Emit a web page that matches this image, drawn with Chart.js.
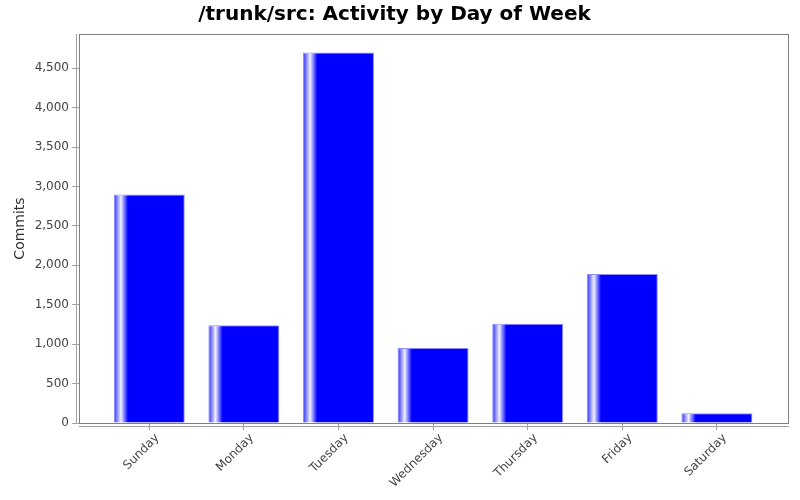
<!DOCTYPE html>
<html>
<head>
<meta charset="utf-8">
<script src="https://cdn.jsdelivr.net/npm/chart.js@4"></script>
<style>
  html, body { margin: 0; padding: 0; background: #fff; }
  #wrap { width: 800px; height: 500px; }
</style>
</head>
<body>
<div id="wrap"><canvas id="chart"></canvas></div>
<script>
// ---------------- DATA ----------------
const days = ["Sunday", "Monday", "Tuesday", "Wednesday", "Thursday", "Friday", "Saturday"];
const commits = [2900, 1240, 4700, 950, 1260, 1890, 125];
const yTicks = [0, 500, 1000, 1500, 2000, 2500, 3000, 3500, 4000, 4500];

const FONT = "'DejaVu Sans', sans-serif";
const BAR_PCT = 0.75;

// white highlight stripe near the left edge of each bar
function barGradient(ctx) {
    const chart = ctx.chart;
    const xs = chart.scales.x;
    if (ctx.type !== "data" || !xs) return "#0000ff";
    const w = (xs.getPixelForValue(1) - xs.getPixelForValue(0)) * BAR_PCT;
    const left = xs.getPixelForValue(ctx.raw.x) - w / 2;
    if (!Number.isFinite(w) || !Number.isFinite(left) || w <= 0) return "#0000ff";
    const g = chart.ctx.createLinearGradient(left, 0, left + w, 0);
    g.addColorStop(0, "rgb(40,40,255)");
    g.addColorStop(0.1, "rgb(240,240,255)");
    g.addColorStop(0.2, "rgb(0,0,255)");
    g.addColorStop(1, "rgb(0,0,255)");
    return g;
}

// plot frame + offset axis lines, like the original
const framePlugin = {
    id: "frame",
    afterDraw(chart) {
        const { ctx, chartArea: a } = chart;
        ctx.save();
        ctx.strokeStyle = "#808080";
        ctx.lineWidth = 1;
        ctx.strokeRect(a.left + 0.5, a.top + 0.5, a.right - a.left - 1, a.bottom - a.top);
        ctx.strokeStyle = "#a0a0a0";
        ctx.beginPath();
        ctx.moveTo(a.left - 2.5, a.top);
        ctx.lineTo(a.left - 2.5, a.bottom);
        ctx.moveTo(a.left, a.bottom + 3.5);
        ctx.lineTo(a.right, a.bottom + 3.5);
        ctx.stroke();
        ctx.restore();
    }
};

new Chart(document.getElementById("chart"), {
    type: "bar",
    data: {
        datasets: [{
            label: "Commits",
            data: commits.map((v, i) => ({ x: i, y: v })),
            backgroundColor: barGradient,
            borderColor: "#8c8cff",
            borderWidth: 1,
            borderSkipped: "bottom",
            barPercentage: BAR_PCT,
            categoryPercentage: 1
        }]
    },
    options: {
        responsive: true,
        maintainAspectRatio: false,
        animation: false,
        layout: { padding: { left: 0, right: 11, top: 0, bottom: 0 } },
        plugins: {
            legend: { display: false },
            tooltip: { enabled: false },
            title: {
                display: true,
                text: "/trunk/src: Activity by Day of Week",
                color: "#000",
                font: { family: FONT, size: 20, weight: "bold" },
                padding: { top: 3, bottom: 7 }
            }
        },
        scales: {
            x: {
                type: "linear",
                offset: false,
                min: -0.743,
                max: 6.762,
                afterFit: s => { s.height = 77; },
                afterBuildTicks: s => { s.ticks = days.map((d, i) => ({ value: i })); },
                border: { display: false },
                grid: { offset: false, drawOnChartArea: false, drawTicks: true, tickLength: 7, color: "#a0a0a0" },
                ticks: {
                    autoSkip: false,
                    minRotation: 45,
                    maxRotation: 45,
                    padding: 1,
                    labelOffset: 8,
                    color: "#444",
                    font: { family: FONT, size: 12 },
                    callback: v => days[v] ?? ""
                }
            },
            y: {
                min: 0,
                max: 4935,
                afterFit: s => { s.width = 79; },
                afterBuildTicks: s => { s.ticks = yTicks.map(v => ({ value: v })); },
                border: { display: false },
                grid: { drawOnChartArea: false, drawTicks: true, tickLength: 7, color: "#a0a0a0" },
                title: {
                    display: true,
                    text: "Commits",
                    color: "#333",
                    font: { family: FONT, size: 14 },
                    padding: { top: 12, bottom: 0 }
                },
                ticks: {
                    padding: 3,
                    color: "#444",
                    font: { family: FONT, size: 12 },
                    callback: v => v.toLocaleString("en-US")
                }
            }
        }
    },
    plugins: [framePlugin]
});
</script>
</body>
</html>
